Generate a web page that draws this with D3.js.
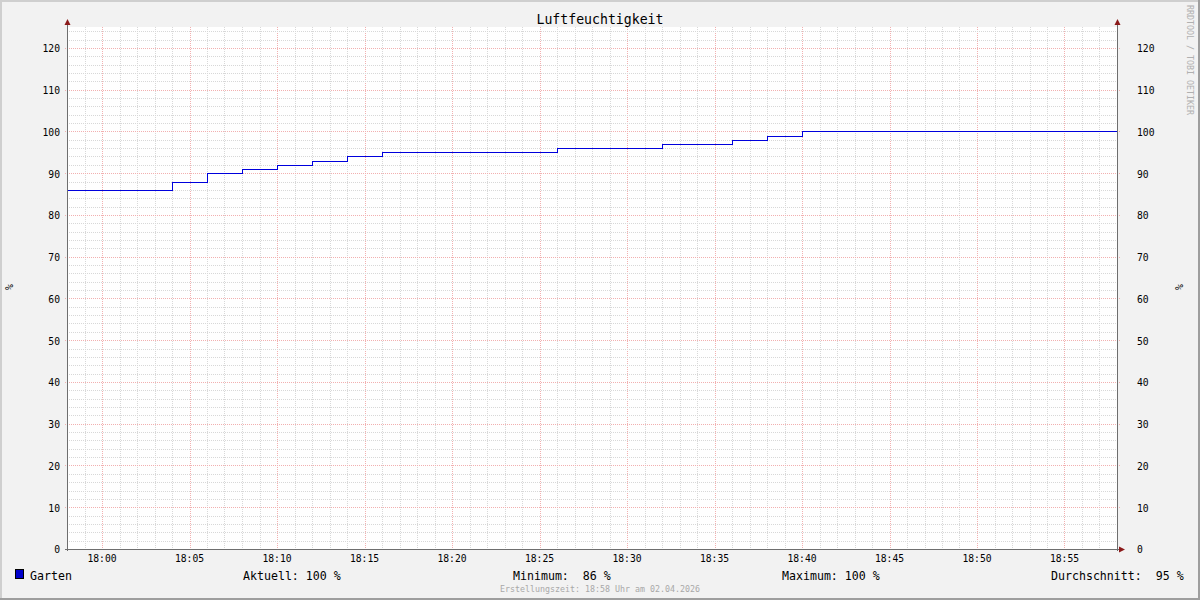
<!DOCTYPE html>
<html><head><meta charset="utf-8">
<script src="https://cdn.jsdelivr.net/npm/d3@7"></script>
<style>
html,body{margin:0;padding:0;background:#f2f2f2;}
svg{display:block;}
text{font-family:"DejaVu Sans Mono",monospace;white-space:pre;}
</style></head>
<body>
<script>
// ---- data ----
const title = "Luftfeuchtigkeit";
const seriesName = "Garten";
const unit = "%";
const stepTimes = ["17:58","18:04","18:06","18:08","18:10","18:12","18:14","18:16","18:26","18:32","18:36","18:38","18:40","18:58"];
const stepValues = [86,88,90,91,92,93,94,95,96,97,98,99,100,100];
const xStart = "17:58", xEnd = "18:58";
const xTickLabels = ["18:00","18:05","18:10","18:15","18:20","18:25","18:30","18:35","18:40","18:45","18:50","18:55"];
const yTickValues = [0,10,20,30,40,50,60,70,80,90,100,110,120];
const legendStats = [["Aktuell:"," 100 %"],["Minimum:","  86 %"],["Maximum:"," 100 %"],["Durchschnitt:","  95 %"]];
const footer = "Erstellungszeit: 18:58 Uhr am 02.04.2026";
const watermark = "RRDTOOL / TOBI OETIKER";

// ---- layout ----
const W = 1200, H = 600;
const L = 67, R = 1117, T = 27, B = 549;
const parse = s => { const [h,m] = s.split(":").map(Number); return new Date(2026,3,2,h,m); };

const svg = d3.select("body").append("svg").attr("width",W).attr("height",H);
svg.append("rect").attr("width",W).attr("height",H).attr("fill","#f2f2f2");
// frame
svg.append("rect").attr("x",0).attr("y",0).attr("width",W).attr("height",2).attr("fill","#cfcfcf");
svg.append("rect").attr("x",0).attr("y",0).attr("width",2).attr("height",H).attr("fill","#cfcfcf");
svg.append("rect").attr("x",0).attr("y",H-2).attr("width",W).attr("height",2).attr("fill","#9e9e9e");
svg.append("rect").attr("x",W-2).attr("y",0).attr("width",2).attr("height",H).attr("fill","#9e9e9e");

const x = d3.scaleTime().domain([parse(xStart),parse(xEnd)]).range([L,R]);
const y = d3.scaleLinear().domain([0,125]).range([B,T]);

svg.append("rect").attr("x",L).attr("y",T).attr("width",R-L).attr("height",B-T).attr("fill","#ffffff");

const g = svg.append("g").attr("shape-rendering","crispEdges");
// grid
const minutes = d3.timeMinute.range(parse(xStart), d3.timeMinute.offset(parse(xEnd),1));
minutes.forEach(t => {
  const major = t.getMinutes()%5===0;
  const xx = Math.round(x(t))+0.5;
  if (xx < L || xx > R+1) return;
  g.append("line").attr("x1",xx).attr("x2",xx).attr("y1",T).attr("y2",B)
    .attr("stroke", major?"#f2b0b0":"#d8d8d8").attr("stroke-dasharray","1,1").attr("stroke-width",1);
});
d3.range(2,126,2).forEach(v => {
  const major = v%10===0;
  const yy = Math.round(y(v))+0.5;
  g.append("line").attr("x1",major?L-2:L).attr("x2",major?R+3:R+2).attr("y1",yy).attr("y2",yy)
    .attr("stroke", major?"#f2b0b0":"#d8d8d8").attr("stroke-dasharray","1,1").attr("stroke-width",1);
});

// line
const data = stepTimes.map((t,i)=>({t:parse(t),v:stepValues[i]}));
svg.append("path").datum(data)
  .attr("d", d3.line().x(d=>Math.round(x(d.t))+0.5).y(d=>Math.round(y(d.v))+0.5).curve(d3.curveStepAfter))
  .attr("fill","none").attr("stroke","#0000dd").attr("stroke-width",1).attr("shape-rendering","crispEdges");

// axes lines
const axc = "#6e6e6e";
svg.append("line").attr("x1",L-2).attr("x2",R+4).attr("y1",B+0.5).attr("y2",B+0.5).attr("stroke",axc);
svg.append("line").attr("x1",L+0.5).attr("x2",L+0.5).attr("y1",22).attr("y2",B+2).attr("stroke",axc);
svg.append("line").attr("x1",R+0.5).attr("x2",R+0.5).attr("y1",22).attr("y2",B+2).attr("stroke",axc);
// arrows
const arr = "#8b1a1a";
[L+0.5,R+0.5].forEach(ax => svg.append("path").attr("d",`M${ax-3},25 L${ax+3},25 L${ax},19 Z`).attr("fill",arr));
svg.append("path").attr("d",`M${R+2},${B-2.5} L${R+2},${B+3.5} L${R+8},${B+0.5} Z`).attr("fill",arr);

// y tick labels
const yl = svg.append("g").attr("font-size","9.7px").attr("fill","#000");
yTickValues.forEach(v => {
  yl.append("text").attr("x",60).attr("y",y(v)+1).attr("dy","0.35em").attr("text-anchor","end").text(v);
  yl.append("text").attr("x",1137).attr("y",y(v)+1).attr("dy","0.35em").attr("text-anchor","start").text(v);
});
// x tick labels
xTickLabels.forEach(s => {
  yl.append("text").attr("x",x(parse(s))).attr("y",559).attr("dy","0.35em").attr("text-anchor","middle").text(s);
});
// unit labels
svg.append("text").attr("transform","translate(10,287) rotate(-90)").attr("text-anchor","middle").attr("dy","0.35em").attr("font-size","9.7px").text(unit);
svg.append("text").attr("transform","translate(1180,287) rotate(-90)").attr("text-anchor","middle").attr("dy","0.35em").attr("font-size","9.7px").text(unit);

// title
svg.append("text").attr("x",600).attr("y",19).attr("dy","0.35em").attr("text-anchor","middle").attr("font-size","13.2px").text(title);
// watermark
svg.append("text").attr("transform","translate(1190,5) rotate(90)").attr("dy","0.35em").attr("font-size","8.3px").attr("fill","#b0b0b0").text(watermark);

// legend
svg.append("rect").attr("x",15.5).attr("y",569.5).attr("width",8).attr("height",9).attr("fill","#0000cc").attr("stroke","#000");
svg.append("text").attr("x",30).attr("y",575.5).attr("dy","0.35em").attr("font-size","11.6px").text(seriesName);
const statX = [243,513,782,1051];
legendStats.forEach((s,i)=>{
  svg.append("text").attr("x",statX[i]).attr("y",575.5).attr("dy","0.35em").attr("font-size","11.6px").text(s[0]+s[1]);
});
svg.append("text").attr("x",600).attr("y",589).attr("dy","0.35em").attr("text-anchor","middle").attr("font-size","8.3px").attr("fill","#a8a8a8").text(footer);
</script>
</body></html>
